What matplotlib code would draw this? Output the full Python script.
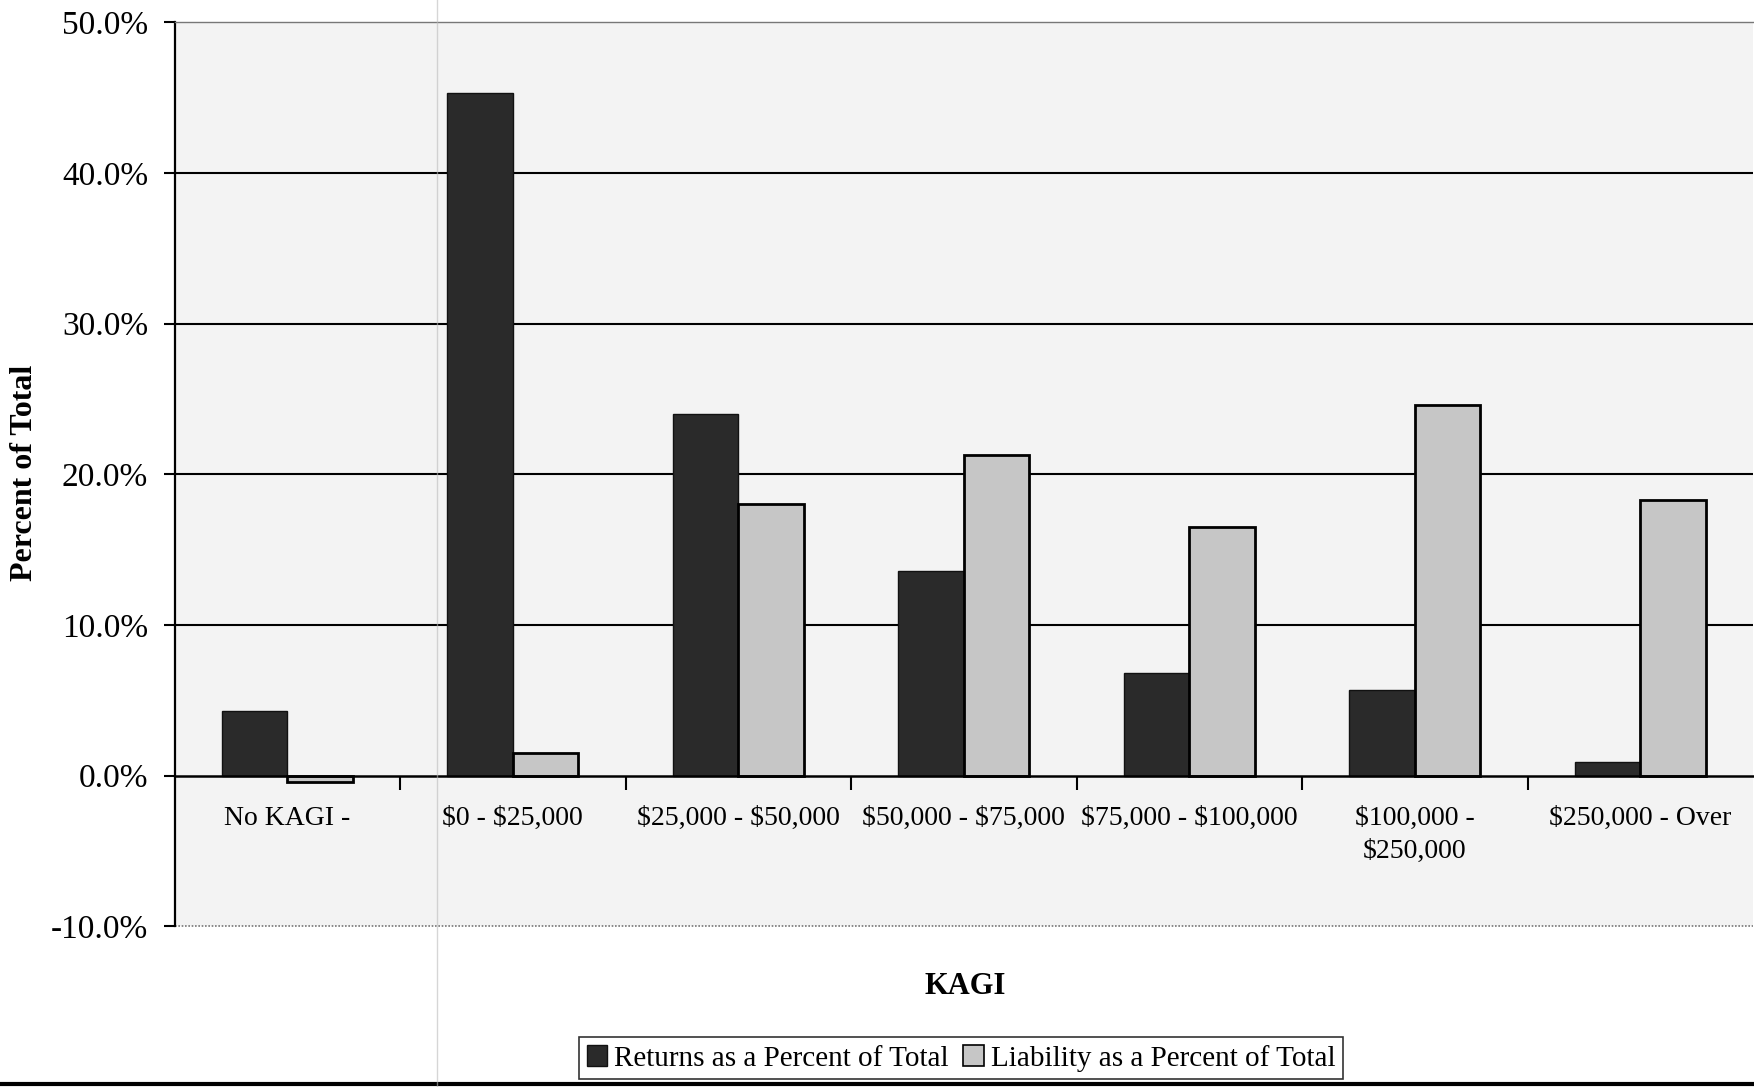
import numpy as np
import matplotlib.pyplot as plt
from matplotlib.lines import Line2D
from matplotlib.patches import Patch
from matplotlib.ticker import FuncFormatter, FixedLocator

plt.rcParams['font.family'] = ['Liberation Serif', 'DejaVu Serif']
plt.rcParams['text.parse_math'] = False

# share of returns and of liability per KAGI bracket (percent)
categories = ["No KAGI -", "$0 - $25,000", "$25,000 - $50,000", "$50,000 - $75,000",
              "$75,000 - $100,000", "$100,000 -\n$250,000", "$250,000 - Over"]
returns_pct = [4.3, 45.3, 24.0, 13.6, 6.8, 5.7, 0.9]
liability_pct = [-0.45, 1.5, 18.0, 21.3, 16.5, 24.6, 18.3]

dark = '#2a2a2a'
light = '#c6c6c6'

fig = plt.figure(figsize=(17.54, 10.87), dpi=100)
ax = fig.add_axes([0.0995, 0.148, 0.9, 0.8314])
ax.set_facecolor('#f3f3f3')

x = np.arange(len(categories))
w = 0.29
ax.bar(x - w / 2, returns_pct, w, color=dark, edgecolor='#111111', linewidth=1.0, zorder=3)
ax.bar(x + w / 2, liability_pct, w, color=light, edgecolor='black', linewidth=2.0, zorder=3)

ax.set_xlim(-0.5, 6.5)
ax.set_ylim(-10, 50)
ax.set_yticks(np.arange(-10, 51, 10))
ax.yaxis.set_major_formatter(FuncFormatter(lambda v, p: f"{v:.1f}%"))

# horizontal rules at 10..40, dotted border at top and bottom
for g in [10, 20, 30, 40]:
    ax.axhline(g, color='black', lw=1.5, zorder=1)
ax.axhline(-10, color='#777777', lw=1.2, ls=(0, (1, 1)), zorder=1, clip_on=False)

ax.spines['right'].set_visible(False)
ax.spines['top'].set_linestyle((0, (1, 1)))
ax.spines['top'].set_color('#777777')
ax.spines['top'].set_linewidth(1.0)
ax.spines['left'].set_linewidth(1.6)
ax.spines['bottom'].set_position(('data', 0))
ax.spines['bottom'].set_linewidth(1.8)
ax.spines['bottom'].set_zorder(4)

ax.set_xticks(x)
ax.set_xticklabels(categories, fontsize=20, linespacing=1.4)
ax.xaxis.set_minor_locator(FixedLocator(np.arange(0.5, 6, 1)))
ax.tick_params(axis='x', which='major', length=0, pad=22)
ax.tick_params(axis='x', which='minor', length=10, width=1.5, direction='out')
ax.tick_params(axis='y', length=8, width=1.5, direction='out', labelsize=24, pad=11)

fig.text(0.014, 0.565, "Percent of Total", rotation=90, fontsize=23,
         fontweight='bold', ha='center', va='center')
fig.text(0.55, 0.092, "KAGI", fontsize=22, fontweight='bold', ha='center', va='center')

handles = [Patch(facecolor=dark, edgecolor='#111111', linewidth=1.0),
           Patch(facecolor=light, edgecolor='black', linewidth=1.2)]
leg = fig.legend(handles, ["Returns as a Percent of Total", "Liability as a Percent of Total"],
                 loc='center', bbox_to_anchor=(0.548, 0.0265), ncol=2, fontsize=21,
                 frameon=True, fancybox=False, edgecolor='black', handlelength=0.7,
                 handleheight=0.7, handletextpad=0.25, columnspacing=0.5,
                 borderpad=0.25, borderaxespad=0)
leg.get_frame().set_linewidth(1.2)

# page edge along the bottom and the faint scanner streak
fig.add_artist(Line2D([0, 1], [0.003, 0.003], color='black', lw=3))
fig.add_artist(Line2D([0.249, 0.249], [0, 1], color='#bbbbbb', lw=1.0, alpha=0.6))

fig.savefig('out.png', dpi=100)
